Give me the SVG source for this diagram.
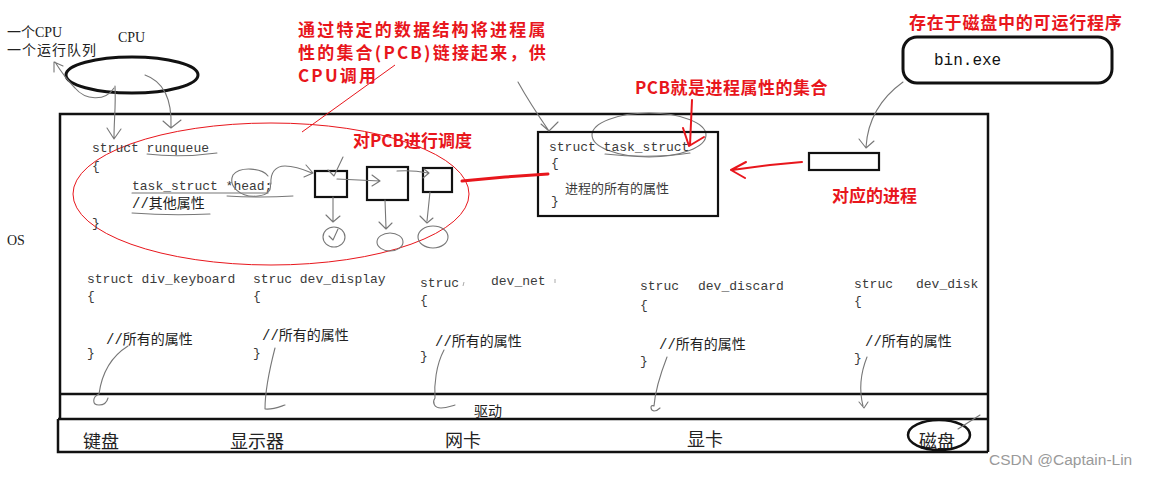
<svg xmlns="http://www.w3.org/2000/svg" width="1149" height="477" viewBox="0 0 1149 477">
<defs>
<style>
.code{font-family:"Liberation Mono","Noto Sans CJK SC",monospace;font-size:13px;fill:#3a3a3a}
.zh{font-family:"Liberation Mono","Noto Sans CJK SC",monospace;font-size:14px;fill:#222}
.red{font-family:"Noto Sans CJK SC",sans-serif;font-weight:bold;font-size:17px;fill:#e8161c}
.hw{font-family:"Noto Sans CJK SC",sans-serif;font-size:18px;fill:#222}
.serif{font-family:"Liberation Serif","Noto Sans CJK SC",serif;font-size:14px;fill:#222}
.thick{fill:none;stroke:#111;stroke-width:2.5}
.box{fill:none;stroke:#111;stroke-width:2.2}
.pen{fill:none;stroke:#777;stroke-width:1.1;stroke-linecap:round;stroke-linejoin:round}
.rpen{fill:none;stroke:#e8161c;stroke-width:2;stroke-linecap:round;stroke-linejoin:round}
</style>
</defs>
<rect width="1149" height="477" fill="#fff"/>

<g id="labels-left">
<text class="serif" x="7" y="37">一个CPU</text>
<text class="serif" x="7" y="55" letter-spacing="1">一个运行队列</text>
<text class="serif" x="7" y="245" font-size="15">OS</text>
</g>

<g id="cpu">
<text class="serif" x="118" y="42">CPU</text>
<ellipse cx="132" cy="75" rx="66" ry="18" fill="none" stroke="#111" stroke-width="3"/>
</g>

<g id="annotation">
<text class="red" font-size="15.5" letter-spacing="2.2"><tspan x="298" y="36">通过特定的数据结构将进程属</tspan><tspan x="298" y="59">性的集合(PCB)链接起来，供</tspan><tspan x="298" y="82">CPU调用</tspan></text>
</g>

<g id="os">
<path class="thick" d="M60,419 V114 H988 V452"/>
<path class="thick" d="M60,394 H988 M58,419 H988 M58,419 V452 H988"/>
</g>

<g id="runqueue">
<ellipse cx="271" cy="194" rx="198" ry="71" fill="none" stroke="#e8161c" stroke-width="1"/>
<text class="red" x="353" y="147">对PCB进行调度</text>
<text class="code" x="92" y="152">struct runqueue</text>
<text class="code" x="92" y="170">{</text>
<text class="code" x="132" y="190">task_struct *head;</text>
<text class="zh" x="132" y="208">//其他属性</text>
<text class="code" x="92" y="227">}</text>
<path class="pen" d="M147,154 Q180,158 217,153 M132,193 L268,193 M227,196 Q260,198 293,196 M132,213 Q170,216 210,214"/>
<rect class="box" x="315" y="171" width="32" height="26"/>
<rect class="box" x="367" y="167" width="41" height="33"/>
<rect class="box" x="423" y="168" width="29" height="24"/>
<ellipse class="pen" cx="334" cy="237" rx="11" ry="10"/>
<path class="pen" d="M329,236 L333,240 L338,229"/>
<ellipse class="pen" cx="390" cy="242" rx="13" ry="9"/>
<ellipse class="pen" cx="433" cy="237" rx="15" ry="11"/>
</g>

<g id="task-struct">
<ellipse class="pen" cx="649" cy="135" rx="57" ry="22"/>
<text class="red" x="635" y="94" letter-spacing="0.5">PCB就是进程属性的集合</text>
<rect class="box" x="538" y="132" width="180" height="84"/>
<text class="code" x="549" y="151">struct task_struct</text>
<text class="code" x="551" y="167">{</text>
<text class="code" x="565" y="193" font-size="15">进程的所有的属性</text>
<text class="code" x="551" y="205">}</text>
<path class="pen" d="M605,154 Q650,159 690,153"/>
</g>

<g id="process">
<rect class="box" x="809" y="153" width="70" height="17"/>
<text class="red" x="832" y="202">对应的进程</text>
</g>

<g id="bin-exe">
<text class="red" x="909" y="29" letter-spacing="0.8">存在于磁盘中的可运行程序</text>
<rect x="903" y="37" width="209" height="46" rx="14" fill="none" stroke="#111" stroke-width="3"/>
<text x="934" y="65" font-family="Liberation Mono, monospace" font-size="16" fill="#111">bin.exe</text>
</g>

<g id="dev-keyboard">
<text class="code" x="87" y="283">struct div_keyboard</text>
<text class="code" x="87" y="300">{</text>
<text class="zh" x="106" y="344">//所有的属性</text>
<text class="code" x="87" y="357">}</text>
</g>
<g id="dev-display">
<text class="code" x="253" y="283">struc dev_display</text>
<text class="code" x="253" y="300">{</text>
<text class="zh" x="262" y="340">//所有的属性</text>
<text class="code" x="253" y="357">}</text>
</g>
<g id="dev-net">
<text class="code" x="420" y="287">struc</text>
<text class="code" x="491" y="285">dev_net</text>
<path d="M464,282 L463,286 M555,279 L555,283" fill="none" stroke="#aaa" stroke-width="1"/>
<text class="code" x="420" y="304">{</text>
<text class="zh" x="435" y="346">//所有的属性</text>
<text class="code" x="420" y="360">}</text>
</g>
<g id="dev-discard">
<text class="code" x="640" y="290">struc</text>
<text class="code" x="698" y="290">dev_discard</text>
<text class="code" x="640" y="309">{</text>
<text class="zh" x="659" y="349">//所有的属性</text>
<text class="code" x="640" y="365">}</text>
</g>
<g id="dev-disk">
<text class="code" x="854" y="288">struc</text>
<text class="code" x="916" y="288">dev_disk</text>
<text class="code" x="854" y="305">{</text>
<text class="zh" x="865" y="346">//所有的属性</text>
<text class="code" x="854" y="362">}</text>
</g>

<g id="driver">
<text x="474" y="416" font-family="Noto Sans CJK SC, sans-serif" font-size="14" fill="#222">驱动</text>
</g>

<g id="hardware">
<text class="hw" x="83" y="448">键盘</text>
<text class="hw" x="230" y="448">显示器</text>
<text class="hw" x="445" y="447">网卡</text>
<text class="hw" x="687" y="446">显卡</text>
<text class="hw" x="919" y="448">磁盘</text>
<ellipse cx="939" cy="435" rx="31" ry="15" fill="none" stroke="#111" stroke-width="2.5"/>
</g>

<g id="connectors">
<path class="pen" d="M115,86 C116,105 114,120 114,138 M107,128 L114,139 L121,129"/>
<path class="pen" d="M114,88 C105,102 85,100 75,88 C65,78 60,70 55,62 M54,72 L54,62 L63,66"/>
<path class="pen" d="M145,75 C165,82 172,100 171,127 M163,121 L171,128 L181,120"/>
<path d="M395,65 L302,132" fill="none" stroke="#e8161c" stroke-width="1"/>
<path class="pen" d="M268,176 C262,168 240,166 233,175 C228,186 240,198 258,196 C268,195 272,190 270,183"/>
<path class="pen" d="M271,184 C270,172 276,166 285,166 C295,166 305,170 312,173 M306,165 L313,173 L304,177"/>
<path class="pen" d="M343,157 L334,176 L328,170"/>
<path class="pen" d="M337,179 L380,181 M372,175 L380,181 L372,186"/>
<path class="pen" d="M397,171 C410,170 418,171 428,173 M423,178 L429,173 L424,169"/>
<path class="pen" d="M333,197 L333,221 M326,215 L333,222 L340,216"/>
<path class="pen" d="M385,200 L386,228 M379,222 L386,229 L392,223"/>
<path class="pen" d="M430,192 L427,221 M420,216 L427,223 L433,218"/>
<path d="M462,181 L505,177 L548,174" fill="none" stroke="#e8161c" stroke-width="3" stroke-linecap="round"/>
<path class="pen" d="M518,82 C528,100 540,118 549,131 M541,124 L549,131 L558,122"/>
<path class="rpen" d="M692,100 L690,145 M683,128 L689,146 L704,137"/>
<path class="rpen" d="M802,162 L770,165 L732,170 M746,162 L731,170 L745,178"/>
<path class="pen" d="M903,82 C885,95 868,115 866,147 M859,139 L866,148 L874,141"/>
<path class="pen" d="M128,346 C112,356 102,372 99,394 C92,397 92,405 99,405 C104,405 107,402 108,398"/>
<path class="pen" d="M275,348 C268,375 265,395 265,409 C272,410 279,407 285,405"/>
<path class="pen" d="M444,350 C436,365 434,385 435,398 C432,402 434,408 441,408 C447,408 451,406 455,405"/>
<path class="pen" d="M667,357 C660,375 655,393 654,406 C650,404 650,410 654,411 C656,411 658,410 660,408"/>
<path class="pen" d="M867,357 C861,372 859,390 863,406 M859,402 L864,408 L868,402"/>
<path class="pen" d="M958,429 L980,415"/>
</g>

<text x="989" y="465" font-family="Liberation Sans, Arial, sans-serif" font-size="15.5" fill="#9a9a9a">CSDN @Captain-Lin</text>
</svg>
